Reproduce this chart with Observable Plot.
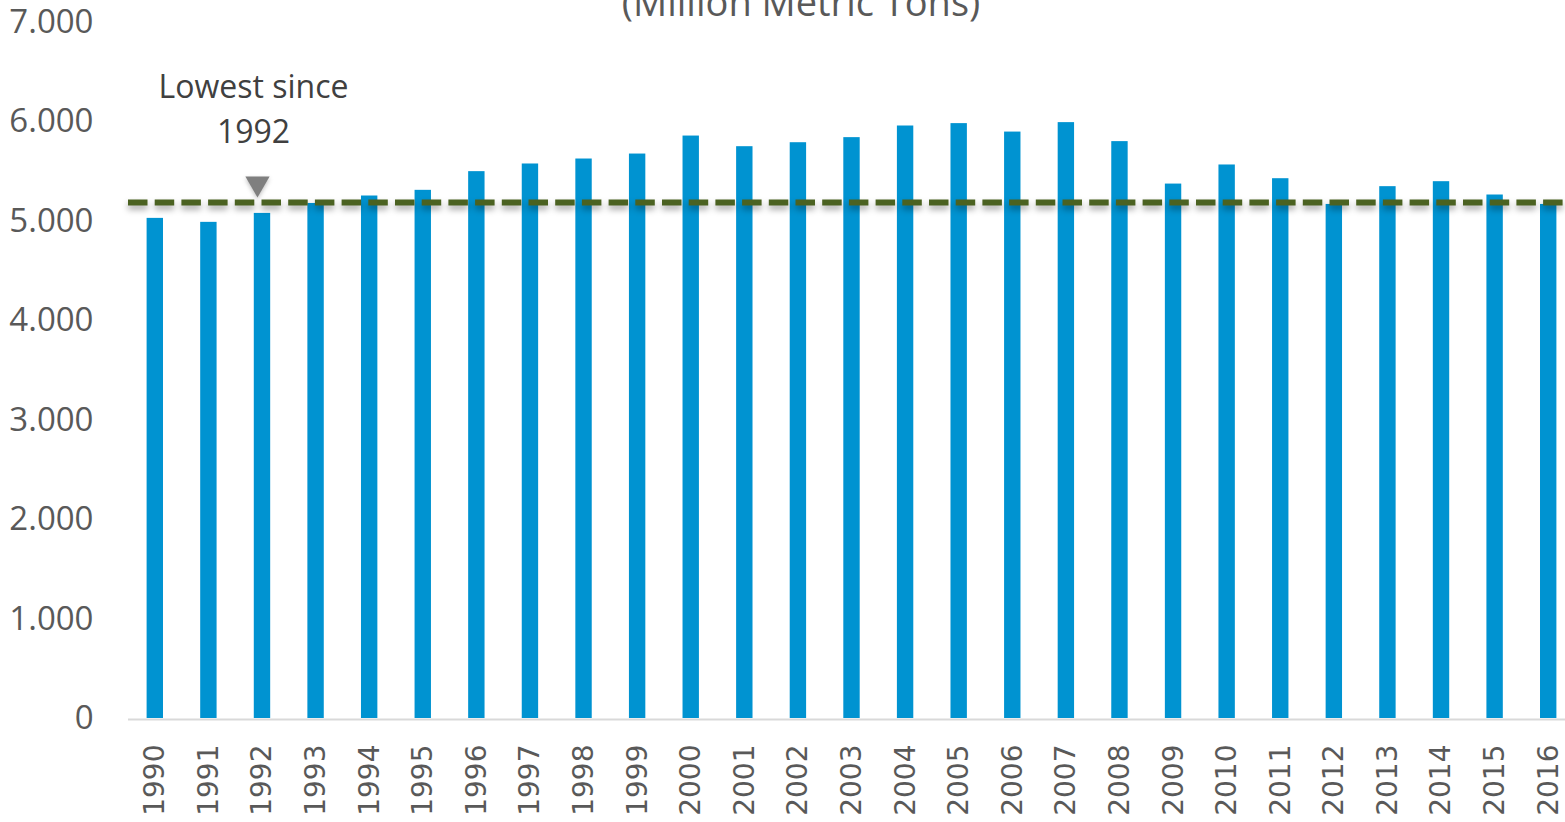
<!DOCTYPE html>
<html>
<head>
<meta charset="utf-8">
<script src="https://cdn.jsdelivr.net/npm/d3@7"></script>
<script src="https://cdn.jsdelivr.net/npm/@observablehq/plot@0.6"></script>
<style>
  html, body { margin: 0; padding: 0; background: #fff; overflow: hidden; }
  #chart svg { display: block; max-width: none !important; }
</style>
</head>
<body>
<div id="chart"></div>
<script>
const years = ["1990","1991","1992","1993","1994","1995","1996","1997","1998","1999","2000","2001","2002","2003","2004","2005","2006","2007","2008","2009","2010","2011","2012","2013","2014","2015","2016"];
const values = [5030, 4990, 5080, 5180, 5255, 5312, 5500, 5577, 5627, 5677, 5858, 5751, 5791, 5842, 5959, 5983, 5898, 5993, 5802, 5375, 5567, 5429, 5170, 5349, 5399, 5265, 5170];
const referenceLevel = [5190];
const yTicks = [0, 1000, 2000, 3000, 4000, 5000, 6000, 7000];
const titleText = "(Million Metric Tons)";
const annotation = [{year: "1992", value: 6160, label: "Lowest since\n1992"}];
const marker = [{year: "1992", value: 5380}];

const data = years.map((y, i) => ({year: y, value: values[i]}));
const fmt = d3.formatLocale({decimal: ",", thousands: ".", grouping: [3], currency: ["", ""]}).format(",");

const plot = Plot.plot({
  width: 1575,
  height: 822,
  marginTop: 22,
  marginBottom: 104,
  marginLeft: 128,
  marginRight: 0,
  style: {maxWidth: "none"},
  x: {domain: years, padding: 0, round: false, label: null},
  y: {domain: [0, 7000], label: null},
  marks: [
    Plot.ruleY([0], {stroke: "#d9d9d9", strokeWidth: 2, dy: 1}),
    Plot.barY(data, {x: "year", y: "value", fill: "#0093d1", insetLeft: 18.6, insetRight: 18.6}),
    Plot.ruleY(referenceLevel, {stroke: "#4b6221", strokeWidth: 6, strokeDasharray: "19.5,7.2", insetRight: 12}),
    Plot.dot(marker, {x: "year", y: "value", symbol: "triangle", rotate: 180, r: 9, fill: "#7f7f7f", stroke: "none", dx: -5}),
    Plot.text(annotation, {x: "year", y: "value", text: "label", dx: -9, fontSize: 32, fontFamily: "Open Sans", fill: "#404040", lineHeight: 1.4}),
    Plot.text([titleText], {frameAnchor: "top", text: d => d, dx: -51, dy: -7, lineAnchor: "bottom", fontSize: 38, fontFamily: "Open Sans", fill: "#595959"}),
    Plot.axisY(yTicks, {tickSize: 0, tickPadding: 35, tickFormat: fmt, fontSize: 33, fontFamily: "Open Sans", fill: "#595959", label: null}),
    Plot.axisX({tickSize: 0, tickPadding: 26, tickRotate: -90, fontSize: 28, fontFamily: "DejaVu Sans", fill: "#595959", label: null})
  ]
});

d3.select(plot).selectAll('[aria-label="rule"]').filter((d, i) => i === 1)
  .style("filter", "drop-shadow(0px 4px 3px rgba(0,0,0,0.35))");
d3.select(plot).selectAll('[aria-label="dot"]')
  .style("filter", "drop-shadow(0px 2px 2px rgba(0,0,0,0.25))");

document.getElementById("chart").appendChild(plot);
</script>
</body>
</html>
